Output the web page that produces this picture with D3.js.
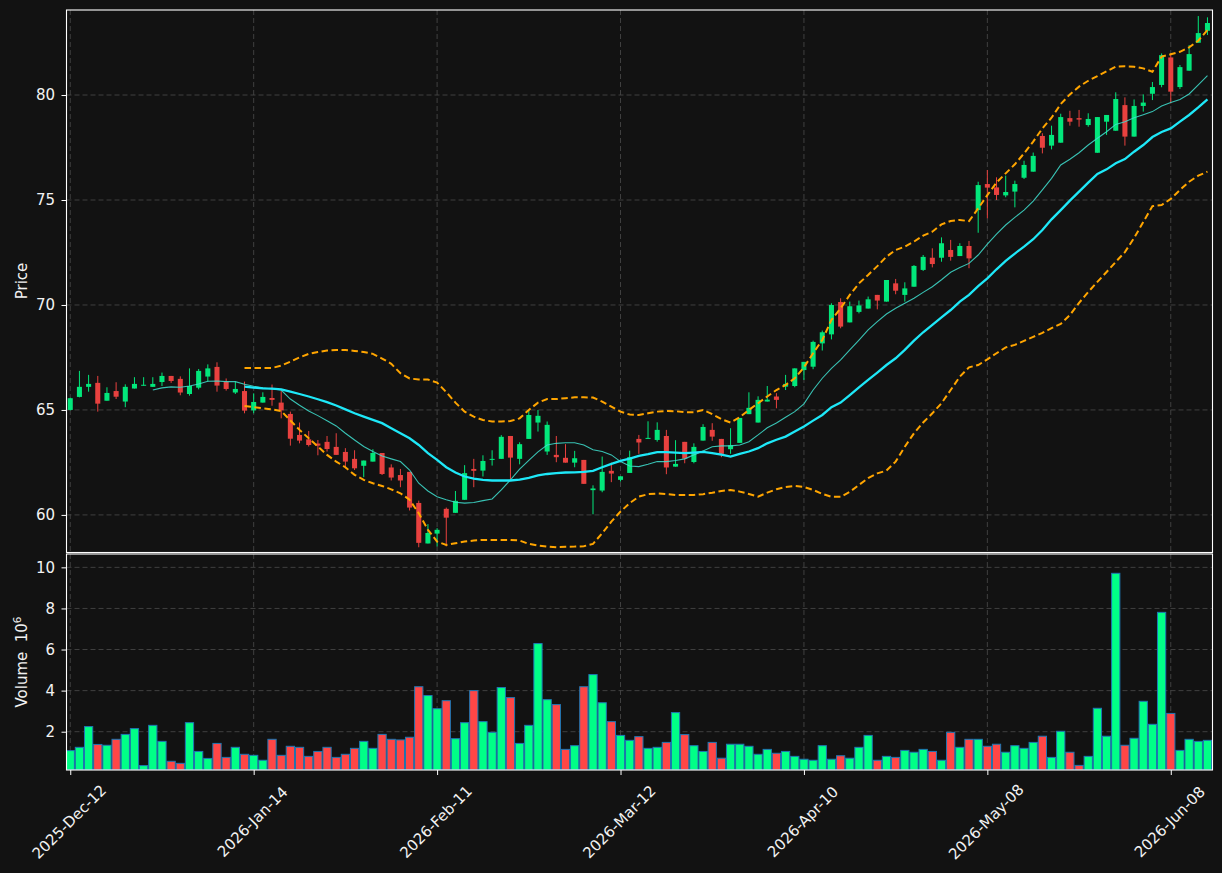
<!DOCTYPE html>
<html>
<head>
<meta charset="utf-8">
<script src="https://cdn.jsdelivr.net/npm/d3@7"></script>
<style>
  html, body { margin: 0; padding: 0; background: #121212; }
  svg { display: block; font-family: "DejaVu Sans", sans-serif; }
</style>
</head>
<body>
<div id="chart"></div>
<script>
// x axis: one slot per trading day, labelled every 20 sessions
var tickIndex = [0, 20, 40, 60, 80, 100, 120];
var tickLabels = ['2025-Dec-12', '2026-Jan-14', '2026-Feb-11', '2026-Mar-12', '2026-Apr-10', '2026-May-08', '2026-Jun-08'];
var priceTicks = [60, 65, 70, 75, 80];
var volumeTicks = [2, 4, 6, 8, 10];

var opens = [65.00,65.62,66.10,66.29,65.44,65.90,65.40,66.02,66.18,66.10,
  66.33,66.62,66.48,65.76,66.06,66.59,67.05,66.35,65.83,65.90,
  64.98,65.35,65.57,65.35,64.81,63.81,63.60,63.40,63.48,63.24,
  63.00,62.67,62.34,62.54,62.95,62.26,61.90,62.05,60.57,58.64,
  59.11,60.29,60.10,60.72,62.19,62.11,62.62,62.67,63.76,62.67,
  63.62,64.40,63.02,62.86,62.72,62.49,62.62,61.18,61.16,62.10,
  61.67,62.00,63.62,63.62,63.57,63.76,62.30,63.48,62.52,63.54,
  64.05,63.62,63.13,63.43,64.80,64.40,65.40,65.64,66.11,66.14,
  66.90,67.06,68.17,68.60,70.14,69.17,69.67,69.83,70.48,70.16,
  71.03,70.48,70.87,71.67,72.25,72.25,72.62,72.33,72.81,74.52,
  75.76,75.60,75.22,75.40,76.06,76.35,78.05,77.59,77.73,78.90,
  78.90,78.57,77.25,78.73,78.30,79.52,78.02,79.48,80.06,80.48,
  81.79,80.38,81.16,82.49,83.06];
var highs = [65.58,66.86,66.67,66.62,66.08,66.32,66.22,66.56,66.56,66.56,
  66.78,66.62,66.60,66.98,66.95,67.17,67.27,66.50,66.35,66.35,
  65.79,65.84,66.21,65.90,64.92,64.40,64.00,63.57,63.76,63.89,
  63.18,63.08,62.59,63.13,62.95,62.41,62.19,62.05,60.68,59.56,
  59.37,60.35,61.14,62.37,62.67,62.84,63.08,63.80,63.76,63.46,
  65.00,65.00,64.45,63.76,63.37,63.05,62.62,61.41,62.78,62.49,
  61.84,63.06,63.81,64.46,64.41,64.05,63.56,63.48,63.41,64.32,
  64.37,63.62,64.13,64.62,65.84,65.65,66.14,65.80,66.67,66.98,
  67.29,68.30,68.78,70.08,70.32,70.16,70.21,70.40,70.48,71.19,
  71.24,71.08,71.90,72.38,72.70,73.22,73.10,72.94,73.05,75.87,
  76.43,76.08,76.16,75.92,76.87,77.26,78.18,78.54,79.11,79.25,
  79.29,79.13,78.95,79.05,80.13,79.89,79.79,80.03,80.62,81.98,
  81.98,81.43,82.38,83.76,83.70];
var lows = [64.98,65.60,65.87,64.92,65.44,65.52,65.13,66.02,66.16,66.10,
  66.14,66.29,65.70,65.68,65.98,66.35,65.87,65.92,65.76,64.84,
  64.84,65.35,65.20,64.60,63.30,63.41,63.26,62.84,63.02,62.86,
  62.22,62.14,61.80,62.54,61.90,61.64,61.32,60.21,58.46,58.64,
  58.50,58.50,60.10,60.72,61.32,61.83,62.35,62.67,61.67,62.41,
  63.62,63.97,62.86,62.51,62.49,62.27,61.48,60.03,61.08,61.56,
  61.59,62.00,62.91,63.62,63.49,61.94,62.30,62.46,62.46,63.54,
  63.53,62.75,62.91,63.43,64.80,64.40,65.40,65.08,65.95,66.08,
  66.43,66.94,67.83,68.36,68.89,69.17,69.60,69.83,69.79,70.16,
  70.51,70.16,70.87,71.62,71.79,72.06,72.11,72.33,71.75,73.44,
  74.13,75.00,75.13,74.65,76.00,76.35,77.22,77.41,77.73,78.54,
  78.49,78.49,77.25,78.10,78.30,77.59,78.02,79.21,79.76,80.37,
  79.60,80.29,81.16,82.49,82.86];
var closes = [65.56,66.10,66.24,65.30,65.81,65.63,66.10,66.24,66.20,66.24,
  66.62,66.38,65.83,66.14,66.86,66.98,66.16,66.00,66.00,64.97,
  65.38,65.62,65.48,64.98,63.63,63.54,63.33,63.30,63.14,62.86,
  62.54,62.22,62.59,62.95,61.95,61.78,61.64,60.35,58.67,59.14,
  59.29,59.87,60.67,61.99,62.10,62.57,62.67,63.72,62.73,63.37,
  64.76,64.72,64.29,62.75,62.49,62.70,61.48,61.26,62.05,61.97,
  61.84,62.75,63.45,63.67,64.05,62.26,62.43,62.68,63.24,64.19,
  63.73,62.91,63.32,64.62,65.10,65.48,65.49,65.48,66.24,66.98,
  67.29,68.24,68.70,70.00,68.97,69.94,69.98,70.27,70.21,71.19,
  70.68,70.79,71.86,72.29,71.95,72.94,72.29,72.81,72.22,75.71,
  75.59,75.24,75.38,75.76,76.67,77.10,77.49,78.10,78.95,78.73,
  78.83,78.86,78.95,79.05,79.81,78.02,79.48,79.64,80.38,81.90,
  80.16,81.33,81.95,82.95,83.43];
// volume in millions
var volumes = [1.08,1.24,2.25,1.38,1.34,1.63,1.87,2.15,0.35,2.31,
  1.53,0.56,0.46,2.44,1.04,0.70,1.43,0.75,1.24,0.90,
  0.85,0.61,1.63,0.85,1.29,1.24,0.80,1.04,1.24,0.75,
  0.90,1.19,1.53,1.19,1.87,1.63,1.60,1.73,4.19,3.76,
  3.12,3.51,1.66,2.44,4.00,2.49,1.97,4.15,3.66,1.43,
  2.31,6.29,3.56,3.32,1.14,1.32,4.19,4.78,3.41,2.49,
  1.82,1.58,1.76,1.19,1.24,1.48,2.93,1.86,1.32,1.04,
  1.48,0.71,1.39,1.39,1.29,0.90,1.14,0.95,1.04,0.80,
  0.66,0.61,1.32,0.66,0.83,0.71,1.24,1.82,0.61,0.80,
  0.75,1.09,1.00,1.14,1.04,0.61,1.97,1.24,1.63,1.63,
  1.29,1.39,1.00,1.32,1.19,1.48,1.78,0.75,2.02,1.00,
  0.36,0.80,3.14,1.78,9.71,1.34,1.68,3.48,2.36,7.81,
  2.89,1.09,1.63,1.53,1.58];

// 10-day average starts at session 9
var ma10Start = 9;
var ma10 = [65.95,66.05,66.10,66.08,66.14,66.24,66.37,66.38,66.35,66.35,
  66.22,66.13,66.06,66.00,65.95,65.52,65.22,64.95,64.73,64.49,
  64.24,63.89,63.57,63.26,63.02,62.81,62.67,62.54,62.14,61.51,
  61.14,60.87,60.72,60.60,60.56,60.59,60.68,60.76,61.19,61.67,
  62.18,62.60,63.00,63.33,63.41,63.44,63.44,63.33,63.10,63.02,
  62.86,62.54,62.33,62.30,62.41,62.54,62.54,62.59,62.67,62.86,
  63.05,63.25,63.29,63.29,63.33,63.49,63.81,64.15,64.38,64.65,
  64.92,65.29,65.95,66.51,66.98,67.38,67.86,68.33,68.81,69.21,
  69.57,69.84,70.08,70.32,70.60,70.87,71.20,71.56,71.78,71.98,
  72.38,72.90,73.38,73.81,74.17,74.52,74.95,75.48,76.03,76.67,
  76.94,77.25,77.62,77.94,78.25,78.60,78.73,78.92,79.06,79.21,
  79.48,79.64,79.79,80.05,80.48,80.92];

// 20-day average and bollinger bands start at session 19
var bandStart = 19;
var ma20 = [66.11,66.06,66.03,66.02,65.98,65.87,65.76,65.64,65.51,65.37,
  65.21,65.03,64.84,64.68,64.53,64.37,64.13,63.89,63.65,63.33,
  62.94,62.62,62.27,62.02,61.83,61.73,61.67,61.64,61.64,61.64,
  61.68,61.77,61.88,61.95,61.99,62.02,62.03,62.05,62.10,62.27,
  62.43,62.57,62.68,62.81,62.89,62.99,62.99,62.97,62.94,62.97,
  63.00,62.94,62.87,62.78,62.91,63.02,63.18,63.41,63.58,63.73,
  63.97,64.21,64.49,64.76,65.13,65.35,65.71,66.08,66.43,66.78,
  67.14,67.46,67.86,68.30,68.70,69.05,69.41,69.76,70.16,70.48,
  70.90,71.27,71.70,72.10,72.45,72.78,73.13,73.57,74.08,74.52,
  74.97,75.40,75.83,76.24,76.46,76.75,76.95,77.30,77.62,78.00,
  78.24,78.41,78.73,79.05,79.41,79.79];
var bbUpper = [67.00,67.00,67.00,67.00,67.11,67.30,67.50,67.67,67.76,67.83,
  67.86,67.86,67.81,67.76,67.67,67.45,67.20,66.75,66.50,66.45,
  66.45,66.30,65.85,65.35,64.92,64.68,64.52,64.45,64.45,64.47,
  64.60,65.00,65.35,65.52,65.52,65.56,65.60,65.60,65.59,65.40,
  65.16,64.92,64.78,64.76,64.84,64.92,64.95,64.94,64.89,64.89,
  65.00,64.80,64.56,64.40,64.65,65.00,65.32,65.64,65.95,66.19,
  66.51,67.03,67.70,68.33,69.29,69.84,70.48,71.03,71.43,71.85,
  72.30,72.62,72.78,73.02,73.30,73.49,73.84,74.00,74.05,73.99,
  74.60,75.23,75.83,76.27,76.70,77.22,77.78,78.41,78.92,79.57,
  80.03,80.40,80.68,80.90,81.13,81.35,81.37,81.35,81.27,81.11,
  81.83,81.94,82.06,82.27,82.59,83.10];
var bbLower = [65.19,65.13,65.08,65.03,64.95,64.50,64.05,63.65,63.26,62.86,
  62.54,62.27,61.91,61.67,61.51,61.38,61.22,61.03,60.72,60.08,
  59.29,58.73,58.57,58.65,58.73,58.78,58.81,58.81,58.81,58.81,
  58.78,58.62,58.54,58.49,58.46,58.48,58.49,58.51,58.62,59.13,
  59.68,60.16,60.56,60.87,60.99,61.02,60.99,60.95,60.95,60.95,
  60.99,61.06,61.14,61.19,61.11,61.00,60.87,61.06,61.22,61.33,
  61.38,61.33,61.19,61.00,60.86,60.86,61.10,61.43,61.75,61.98,
  62.11,62.54,63.25,63.89,64.40,64.84,65.32,65.95,66.59,67.03,
  67.14,67.41,67.70,67.98,68.10,68.29,68.48,68.67,68.90,69.10,
  69.52,70.10,70.62,71.10,71.57,72.05,72.52,73.19,73.95,74.71,
  74.76,75.05,75.48,75.87,76.16,76.35];

var W = 1222, H = 873;
var left = 66.5, right = 1212.5;
var priceTop = 10, priceBottom = 552.5;
var volTop = 554, volBottom = 770;
var upCandle = '#02e77b', downCandle = '#e8413f';
var upVol = '#00ff87', downVol = '#ff4646';
var fontSize = '15px';

var candles = opens.map(function (o, i) {
  return { i: i, o: o, h: highs[i], l: lows[i], c: closes[i], v: volumes[i] };
});

function series(values, start) {
  return values.map(function (v, k) { return { i: k + start, v: v }; });
}

var svg = d3.select('#chart').append('svg')
  .attr('width', W)
  .attr('height', H);

svg.append('rect').attr('width', W).attr('height', H).attr('fill', '#121212');

var x = d3.scaleLinear().domain([-0.41, 124.55]).range([left, right]);
var y = d3.scaleLinear().domain([58.21, 84.05]).range([priceBottom, priceTop]);
var yv = d3.scaleLinear().domain([0.136, 10.65]).range([volBottom, volTop]);
var step = x(1) - x(0);

var defs = svg.append('defs');
defs.append('clipPath').attr('id', 'clipPrice').append('rect')
  .attr('x', left).attr('y', priceTop).attr('width', right - left).attr('height', priceBottom - priceTop);
defs.append('clipPath').attr('id', 'clipVol').append('rect')
  .attr('x', left).attr('y', volTop).attr('width', right - left).attr('height', volBottom - volTop);

// grid
var grid = svg.append('g')
  .attr('stroke', '#454545')
  .attr('stroke-width', 0.9)
  .attr('stroke-dasharray', '5,3');
[[priceTop, priceBottom], [volTop, volBottom]].forEach(function (p) {
  grid.selectAll(null).data(tickIndex).enter().append('line')
    .attr('x1', d => x(d)).attr('x2', d => x(d))
    .attr('y1', p[0]).attr('y2', p[1]);
});
grid.selectAll(null).data(priceTicks).enter().append('line')
  .attr('x1', left).attr('x2', right)
  .attr('y1', d => y(d)).attr('y2', d => y(d));
grid.selectAll(null).data(volumeTicks).enter().append('line')
  .attr('x1', left).attr('x2', right)
  .attr('y1', d => yv(d)).attr('y2', d => yv(d));

// candles
var price = svg.append('g').attr('clip-path', 'url(#clipPrice)');
price.selectAll('.wick')
  .data(candles)
  .enter().append('line')
  .attr('class', 'wick')
  .attr('x1', d => x(d.i)).attr('x2', d => x(d.i))
  .attr('y1', d => y(d.h)).attr('y2', d => y(d.l))
  .attr('stroke', d => d.c >= d.o ? upCandle : downCandle)
  .attr('stroke-width', 1);
price.selectAll('.body')
  .data(candles)
  .enter().append('rect')
  .attr('class', 'body')
  .attr('x', d => x(d.i) - step * 0.275)
  .attr('width', step * 0.55)
  .attr('y', d => y(Math.max(d.o, d.c)))
  .attr('height', d => Math.max(1, Math.abs(y(d.o) - y(d.c))))
  .attr('fill', d => d.c >= d.o ? upCandle : downCandle);

// indicator lines
var line = d3.line().x(d => x(d.i)).y(d => y(d.v));
price.append('path').datum(series(ma10, ma10Start))
  .attr('d', line).attr('fill', 'none')
  .attr('stroke', '#40e0d0').attr('stroke-opacity', 0.85).attr('stroke-width', 1.1);
price.append('path').datum(series(ma20, bandStart))
  .attr('d', line).attr('fill', 'none')
  .attr('stroke', '#1ee8f8').attr('stroke-width', 2.3);
[bbUpper, bbLower].forEach(function (band) {
  price.append('path').datum(series(band, bandStart))
    .attr('d', line).attr('fill', 'none')
    .attr('stroke', '#ffa500').attr('stroke-width', 2)
    .attr('stroke-dasharray', '6.5,3.5');
});

// volume
var vol = svg.append('g').attr('clip-path', 'url(#clipVol)');
vol.selectAll('.bar')
  .data(candles)
  .enter().append('rect')
  .attr('class', 'bar')
  .attr('x', d => x(d.i) - step * 0.45)
  .attr('width', step * 0.9)
  .attr('y', d => yv(d.v))
  .attr('height', d => volBottom - yv(d.v))
  .attr('fill', d => d.c >= d.o ? upVol : downVol)
  .attr('stroke', '#1f77b4')
  .attr('stroke-width', 1);

// spines
[[priceTop, priceBottom], [volTop, volBottom]].forEach(function (p) {
  svg.append('rect')
    .attr('x', left).attr('y', p[0])
    .attr('width', right - left).attr('height', p[1] - p[0])
    .attr('fill', 'none').attr('stroke', '#ffffff').attr('stroke-width', 1.1);
});

function styleAxis(g) {
  g.select('.domain').remove();
  g.selectAll('.tick line').attr('stroke', '#ffffff');
  g.selectAll('.tick text').attr('fill', '#f2f2f2').style('font-size', fontSize)
    .style('font-family', '"DejaVu Sans", sans-serif');
}

svg.append('g')
  .attr('transform', `translate(${left}, 0)`)
  .call(d3.axisLeft(y).tickValues(priceTicks).tickSize(5).tickPadding(6.5))
  .call(styleAxis);

svg.append('g')
  .attr('transform', `translate(${left}, 0)`)
  .call(d3.axisLeft(yv).tickValues(volumeTicks).tickSize(5).tickPadding(6.5).tickFormat(d3.format('d')))
  .call(styleAxis);

var xAxis = svg.append('g')
  .attr('transform', `translate(0, ${volBottom})`)
  .call(d3.axisBottom(x).tickValues(tickIndex).tickSize(5)
    .tickFormat((d, k) => tickLabels[k]))
  .call(styleAxis);
xAxis.selectAll('.tick text')
  .attr('y', 0)
  .attr('dy', null)
  .attr('text-anchor', 'middle')
  .attr('dominant-baseline', 'central')
  .attr('transform', 'translate(-1.5, 52) rotate(-45)');

// axis titles
svg.append('text')
  .attr('transform', 'translate(27, 281) rotate(-90)')
  .attr('text-anchor', 'middle')
  .attr('fill', '#f2f2f2')
  .style('font-size', fontSize)
  .text('Price');

var vLabel = svg.append('text')
  .attr('transform', 'translate(27, 662) rotate(-90)')
  .attr('text-anchor', 'middle')
  .attr('fill', '#f2f2f2')
  .style('font-size', fontSize);
vLabel.append('tspan').text('Volume\u00a0\u00a010');
vLabel.append('tspan').attr('dy', -6).style('font-size', '10.5px').text('6');
</script>
</body>
</html>
